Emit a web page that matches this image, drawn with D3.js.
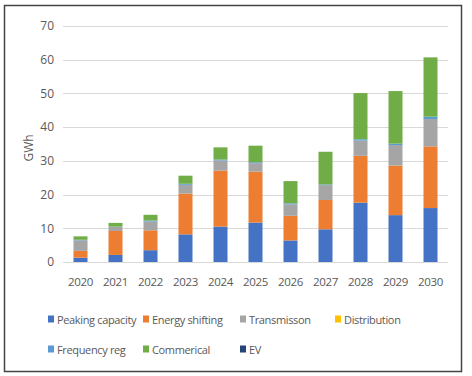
<!DOCTYPE html>
<html>
<head>
<meta charset="utf-8">
<script src="https://cdn.jsdelivr.net/npm/d3@7"></script>
<style>
body { margin: 0; background: #fff; }
svg text { font-family: "Open Sans", "Noto Sans", sans-serif; fill: #595959; }
</style>
</head>
<body>
<svg id="chart" width="472" height="376"></svg>
<script>
var years = ["2020", "2021", "2022", "2023", "2024", "2025", "2026", "2027", "2028", "2029", "2030"];
var peaking = [1.3, 2.1, 3.5, 8.2, 10.5, 11.7, 6.4, 9.7, 17.6, 13.9, 16.0];
var shifting = [2.0, 7.1, 5.9, 12.1, 16.6, 15.1, 7.3, 8.7, 13.9, 14.7, 18.3];
var transmission = [3.1, 1.2, 2.6, 2.6, 3.0, 2.5, 3.4, 4.4, 4.5, 6.1, 8.1];
var distribution = [0, 0, 0, 0, 0, 0, 0, 0, 0, 0, 0];
var freqReg = [0.2, 0.1, 0.3, 0.3, 0.3, 0.3, 0.3, 0.2, 0.4, 0.4, 0.7];
var commercial = [1.0, 1.1, 1.7, 2.4, 3.6, 4.9, 6.6, 9.7, 13.7, 15.6, 17.6];
var ev = [0, 0, 0, 0, 0, 0, 0, 0, 0, 0, 0];
var yTicks = [0, 10, 20, 30, 40, 50, 60, 70];

var seriesNames = ["Peaking capacity", "Energy shifting", "Transmisson", "Distribution", "Frequency reg", "Commerical", "EV"];
var seriesValues = [peaking, shifting, transmission, distribution, freqReg, commercial, ev];
var colors = ["#4472C4", "#ED7D31", "#A5A5A5", "#FFC000", "#5B9BD5", "#70AD47", "#264478"];

var svg = d3.select("#chart");

// outer frame
svg.append("rect")
    .attr("x", 4.5).attr("y", 5.5)
    .attr("width", 457).attr("height", 366)
    .attr("fill", "none")
    .attr("stroke", "#444")
    .attr("stroke-width", 1.5);

var plotLeft = 63, plotRight = 448, plotTop = 26, plotBottom = 262;

var x = d3.scaleBand().domain(years).range([plotLeft, plotRight]).paddingInner(0.6).paddingOuter(0.3);
var y = d3.scaleLinear().domain([0, 70]).range([plotBottom, plotTop]);

var rows = years.map(function(yr, i) {
    var r = {year: yr};
    seriesNames.forEach(function(n, k) { r[n] = seriesValues[k][i]; });
    return r;
});
var stacked = d3.stack().keys(seriesNames)(rows);

// grid
svg.append("g").selectAll("line")
    .data(yTicks)
    .enter().append("line")
    .attr("x1", plotLeft).attr("x2", plotRight)
    .attr("y1", function(d) { return Math.round(y(d)) + 0.5; })
    .attr("y2", function(d) { return Math.round(y(d)) + 0.5; })
    .attr("stroke", "#d9d9d9")
    .attr("stroke-width", 1.2);

var yAxis = svg.append("g")
    .attr("transform", "translate(" + (plotLeft - 9) + ",0)")
    .call(d3.axisLeft(y).tickValues(yTicks).tickSize(0).tickPadding(0));
yAxis.select(".domain").remove();
yAxis.selectAll("text").style("font-size", "12px").attr("fill", "#595959");

svg.append("g").selectAll("g")
    .data(stacked)
    .enter().append("g")
    .attr("fill", function(d, i) { return colors[i]; })
    .selectAll("rect")
    .data(function(d) { return d; })
    .enter().append("rect")
    .attr("x", function(d) { return x(d.data.year); })
    .attr("width", x.bandwidth())
    .attr("y", function(d) { return y(d[1]); })
    .attr("height", function(d) { return y(d[0]) - y(d[1]); });

var xAxis = svg.append("g")
    .attr("transform", "translate(0," + (plotBottom + 12) + ")")
    .call(d3.axisBottom(x).tickSize(0).tickPadding(4));
xAxis.select(".domain").remove();
xAxis.selectAll("text").style("font-size", "11.5px").style("letter-spacing", "-0.3px").attr("fill", "#595959");

svg.append("text")
    .attr("transform", "translate(33,148) rotate(-90)")
    .attr("text-anchor", "middle")
    .style("font-size", "12px")
    .text("GWh");

// legend
var legendPos = [[48, 319], [143, 319], [240, 319], [335, 319], [48, 349], [143, 349], [240, 349]];
var legend = svg.append("g").selectAll("g")
    .data(seriesNames)
    .enter().append("g")
    .attr("transform", function(d, i) { return "translate(" + legendPos[i][0] + "," + legendPos[i][1] + ")"; });
legend.append("rect")
    .attr("x", 0).attr("y", -3.5)
    .attr("width", 6).attr("height", 7)
    .attr("fill", function(d, i) { return colors[i]; });
legend.append("text")
    .attr("x", 9).attr("y", 4.5)
    .style("font-size", "11px")
    .style("letter-spacing", "-0.35px")
    .text(function(d) { return d; });
</script>
</body>
</html>
